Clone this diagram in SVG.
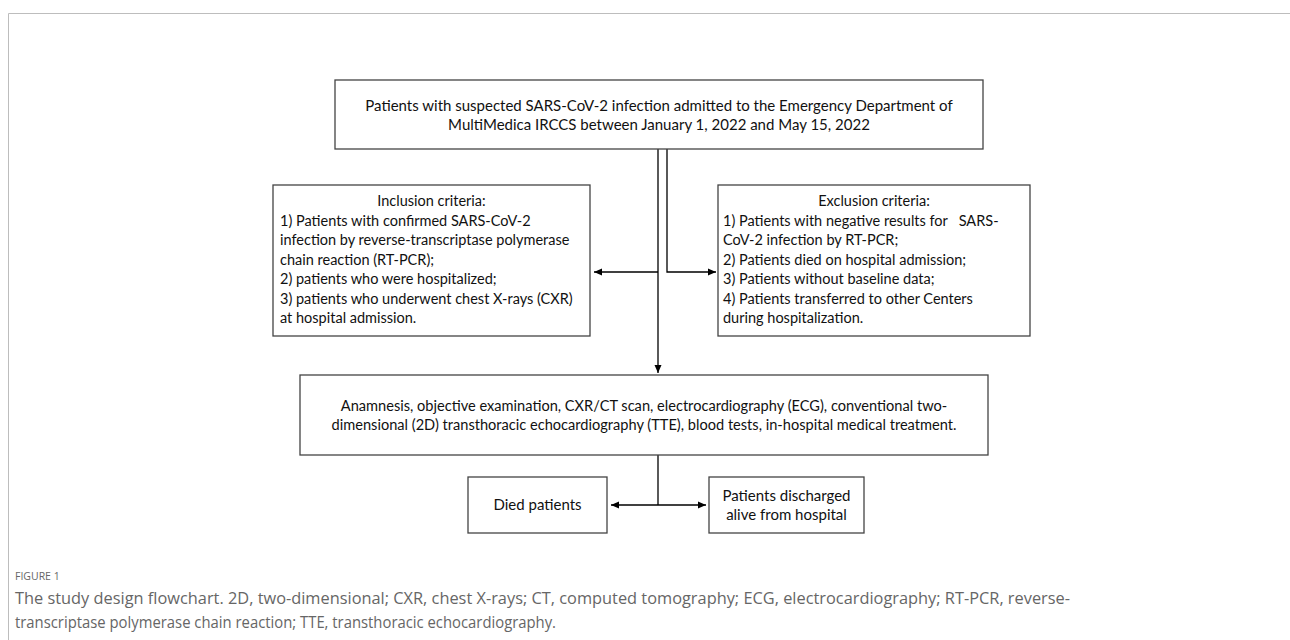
<svg xmlns="http://www.w3.org/2000/svg" width="1290" height="640" viewBox="0 0 1290 640">
<defs>
<marker id="ah" markerWidth="8" markerHeight="8" refX="8" refY="4" orient="auto" markerUnits="userSpaceOnUse">
<path d="M0,0.5 L8,4 L0,7.5 Z" fill="#000"/>
</marker>
<style>
.box{fill:#fff;stroke:#444;stroke-width:1.3}
.t{font-family:Lato,"Liberation Sans",Arial,sans-serif;font-size:15px;fill:#111}
.s{font-size:14.5px}
.m{font-size:14.6px}
.c{text-anchor:middle}
.ln{fill:none;stroke:#000;stroke-width:1.3}
.cap{font-family:"Open Sans","Noto Sans",sans-serif;fill:#666}
</style>
</defs>
<rect width="1290" height="640" fill="#fff"/>
<path d="M8.5,640 V13.5 H1290" fill="none" stroke="#bdbdbd" stroke-width="1"/>

<g id="connectors">
<path class="ln" d="M658,149 V373" marker-end="url(#ah)"/>
<path class="ln" d="M658,272 H594" marker-end="url(#ah)"/>
<path class="ln" d="M667,149 V272 H716" marker-end="url(#ah)"/>
<path class="ln" d="M658,455 V505"/>
<path class="ln" d="M658,505 H611" marker-end="url(#ah)"/>
<path class="ln" d="M658,505 H706" marker-end="url(#ah)"/>
</g>

<g id="top">
<rect class="box" x="335" y="80" width="648" height="69"/>
<text class="t c" x="659" y="110.5">Patients with suspected SARS-CoV-2 infection admitted to the Emergency Department of</text>
<text class="t c" x="659" y="130">MultiMedica IRCCS between January 1, 2022 and May 15, 2022</text>
</g>

<g id="inclusion">
<rect class="box" x="273" y="185" width="317" height="151"/>
<text class="t s c" x="431.5" y="206">Inclusion criteria:</text>
<text class="t s" x="280" y="225.5">1) Patients with confirmed SARS-CoV-2</text>
<text class="t s" x="280" y="245">infection by reverse-transcriptase polymerase</text>
<text class="t s" x="280" y="264.5">chain reaction (RT-PCR);</text>
<text class="t s" x="280" y="284">2) patients who were hospitalized;</text>
<text class="t s" x="280" y="303.5">3) patients who underwent chest X-rays (CXR)</text>
<text class="t s" x="280" y="323">at hospital admission.</text>
</g>

<g id="exclusion">
<rect class="box" x="718" y="185" width="312" height="151"/>
<text class="t s c" x="874" y="206">Exclusion criteria:</text>
<text class="t s" x="723" y="225.5" xml:space="preserve">1) Patients with negative results for   SARS-</text>
<text class="t s" x="723" y="245">CoV-2 infection by RT-PCR;</text>
<text class="t s" x="723" y="264.5">2) Patients died on hospital admission;</text>
<text class="t s" x="723" y="284">3) Patients without baseline data;</text>
<text class="t s" x="723" y="303.5">4) Patients transferred to other Centers</text>
<text class="t s" x="723" y="323">during hospitalization.</text>
</g>

<g id="process">
<rect class="box" x="300" y="375" width="688" height="80"/>
<text class="t m c" x="644" y="411">Anamnesis, objective examination, CXR/CT scan, electrocardiography (ECG), conventional two-</text>
<text class="t m c" x="644" y="430">dimensional (2D) transthoracic echocardiography (TTE), blood tests, in-hospital medical treatment.</text>
</g>

<g id="died">
<rect class="box" x="468" y="477" width="139" height="56"/>
<text class="t c" x="537.5" y="510">Died patients</text>
</g>

<g id="discharged">
<rect class="box" x="709" y="477" width="155" height="56"/>
<text class="t c" x="786.5" y="501">Patients discharged</text>
<text class="t c" x="786.5" y="520">alive from hospital</text>
</g>

<g id="caption">
<text class="cap" x="15" y="580" font-size="10.5">FIGURE 1</text>
<text class="cap" x="15" y="604" font-size="16" textLength="1055" lengthAdjust="spacingAndGlyphs">The study design flowchart. 2D, two-dimensional; CXR, chest X-rays; CT, computed tomography; ECG, electrocardiography; RT-PCR, reverse-</text>
<text class="cap" x="15" y="628" font-size="16" textLength="541" lengthAdjust="spacingAndGlyphs">transcriptase polymerase chain reaction; TTE, transthoracic echocardiography.</text>
</g>
</svg>
